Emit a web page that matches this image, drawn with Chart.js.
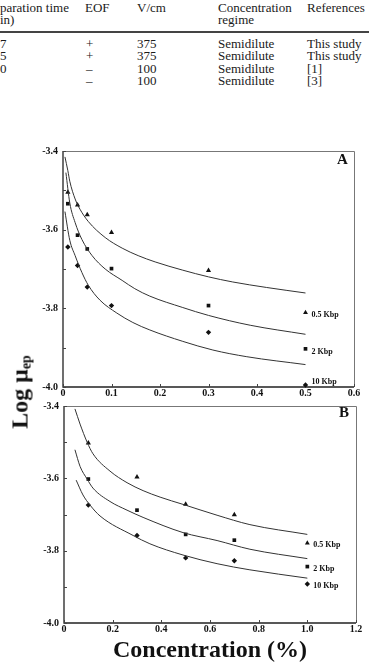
<!DOCTYPE html>
<html><head><meta charset="utf-8">
<script src="https://cdn.jsdelivr.net/npm/chart.js@4.4.1/dist/chart.umd.min.js"></script>
<style>
html,body{margin:0;padding:0;background:#fff;width:369px;height:662px;overflow:hidden;position:relative;font-family:'Liberation Serif','Times New Roman',serif;}
.t{position:absolute;font-family:'Liberation Serif','Times New Roman',serif;font-size:13px;line-height:13px;color:#1a1a1a;white-space:nowrap;}
.rule{position:absolute;left:0;width:369px;top:31px;height:2px;background:#444;}
canvas{position:absolute;left:0;}
#cA{top:140px;}
#cB{top:395px;}
.panel{position:absolute;font:bold 15px/15px 'Liberation Serif',serif;color:#111;}
#ytitle{position:absolute;left:23px;top:392px;transform:translate(-50%,-50%) rotate(-90deg);font:bold 24px/24px 'Liberation Serif',serif;white-space:nowrap;color:#111;}
#ytitle sub{font-size:14px;vertical-align:-3px;}
#xtitle{position:absolute;left:210px;top:637px;transform:translateX(-50%);font:bold 24px/24px 'Liberation Serif',serif;white-space:nowrap;color:#111;}
</style></head>
<body>
<!-- table fragment -->
<div class="t" style="left:0;top:1px">paration time</div>
<div class="t" style="left:0;top:13px">in)</div>
<div class="t" style="left:85px;top:1px">EOF</div>
<div class="t" style="left:137px;top:1px">V/cm</div>
<div class="t" style="left:218px;top:1px">Concentration</div>
<div class="t" style="left:218px;top:13px">regime</div>
<div class="t" style="left:307px;top:1px">References</div>
<div class="rule"></div>
<div class="t" style="left:0;top:37px">7</div>
<div class="t" style="left:86px;top:37px">+</div>
<div class="t" style="left:137px;top:37px">375</div>
<div class="t" style="left:218px;top:37px">Semidilute</div>
<div class="t" style="left:307px;top:37px">This study</div>
<div class="t" style="left:0;top:49px">5</div>
<div class="t" style="left:86px;top:49px">+</div>
<div class="t" style="left:137px;top:49px">375</div>
<div class="t" style="left:218px;top:49px">Semidilute</div>
<div class="t" style="left:307px;top:49px">This study</div>
<div class="t" style="left:0;top:62px">0</div>
<div class="t" style="left:86px;top:62px">–</div>
<div class="t" style="left:137px;top:62px">100</div>
<div class="t" style="left:218px;top:62px">Semidilute</div>
<div class="t" style="left:307px;top:62px">[1]</div>
<div class="t" style="left:86px;top:74px">–</div>
<div class="t" style="left:137px;top:74px">100</div>
<div class="t" style="left:218px;top:74px">Semidilute</div>
<div class="t" style="left:307px;top:74px">[3]</div>

<canvas id="cA" width="369" height="265"></canvas>
<canvas id="cB" width="369" height="245"></canvas>
<div class="panel" style="left:337px;top:152px">A</div>
<div class="panel" style="left:339px;top:405px">B</div>
<div id="ytitle">Log μ<sub>ep</sub></div>
<div id="xtitle">Concentration (%)</div>

<script>
// ---------- data ----------
const keyLabels = ['0.5 Kbp', '2 Kbp', '10 Kbp'];

// Panel A (concentration %, log mobility)
const concA = [0.01, 0.03, 0.05, 0.1, 0.3];
const kbp05A = [-3.505, -3.537, -3.562, -3.607, -3.704];
const kbp2A  = [-3.534, -3.614, -3.649, -3.699, -3.793];
const kbp10A = [-3.644, -3.691, -3.746, -3.793, -3.861];
const keyXA = [0.5, 0.5, 0.5];
const keyYA = [-3.811, -3.903, -3.995];

const fitXA05 = [0.004, 0.01, 0.014, 0.025, 0.035, 0.052, 0.087, 0.122, 0.155, 0.19, 0.247, 0.3, 0.35, 0.42, 0.5];
const fitYA05 = [-3.415, -3.450, -3.477, -3.522, -3.548, -3.579, -3.620, -3.647, -3.666, -3.682, -3.703, -3.720, -3.733, -3.747, -3.761];
const fitXA2  = [0.006, 0.014, 0.025, 0.039, 0.06, 0.087, 0.122, 0.148, 0.179, 0.247, 0.3, 0.386, 0.5];
const fitYA2  = [-3.455, -3.532, -3.582, -3.625, -3.666, -3.700, -3.729, -3.750, -3.769, -3.798, -3.818, -3.843, -3.866];
const fitXA10 = [0.004, 0.014, 0.025, 0.039, 0.052, 0.076, 0.111, 0.144, 0.179, 0.247, 0.309, 0.379, 0.5];
const fitYA10 = [-3.554, -3.627, -3.666, -3.709, -3.741, -3.779, -3.812, -3.836, -3.855, -3.884, -3.906, -3.923, -3.943];

// Panel B
const concB = [0.1, 0.3, 0.5, 0.7];
const kbp05B = [-3.502, -3.596, -3.672, -3.701];
const kbp2B  = [-3.602, -3.688, -3.755, -3.771];
const kbp10B = [-3.674, -3.758, -3.820, -3.828];
const keyXB = [1.0, 1.0, 1.0];
const keyYB = [-3.779, -3.844, -3.892];

const fitXB05 = [0.045, 0.066, 0.095, 0.119, 0.189, 0.259, 0.325, 0.395, 0.489, 0.629, 0.764, 1.0];
const fitYB05 = [-3.408, -3.450, -3.500, -3.532, -3.580, -3.612, -3.634, -3.652, -3.672, -3.702, -3.728, -3.755];
const fitXB2  = [0.045, 0.066, 0.095, 0.119, 0.189, 0.259, 0.325, 0.489, 0.629, 0.764, 1.0];
const fitYB2  = [-3.521, -3.567, -3.602, -3.627, -3.664, -3.688, -3.708, -3.750, -3.772, -3.796, -3.822];
const fitXB10 = [0.05, 0.078, 0.107, 0.148, 0.284, 0.353, 0.489, 0.629, 0.764, 1.0];
const fitYB10 = [-3.605, -3.646, -3.674, -3.704, -3.758, -3.781, -3.812, -3.836, -3.853, -3.876];

// ---------- helpers ----------
const pts = (xs, ys) => xs.map((x, i) => ({x, y: ys[i]}));
const FONT = "'Liberation Serif', 'Times New Roman', serif";

const framePlugin = {
  id: 'frame',
  beforeDatasetsDraw(chart) {
    const {ctx, chartArea: a, scales: {x, y}} = chart;
    ctx.save();
    ctx.strokeStyle = '#777'; ctx.lineWidth = 1;
    ctx.beginPath();
    ctx.moveTo(a.left, a.top + 0.5); ctx.lineTo(a.right + 0.5, a.top + 0.5); ctx.lineTo(a.right + 0.5, a.bottom);
    ctx.stroke();
    ctx.strokeStyle = '#222'; ctx.lineWidth = 1.3;
    ctx.beginPath();
    ctx.moveTo(a.left, a.top); ctx.lineTo(a.left, a.bottom); ctx.lineTo(a.right, a.bottom);
    ctx.stroke();
    ctx.lineWidth = 1; ctx.strokeStyle = '#444';
    ctx.beginPath();
    x.ticks.forEach(t => { const p = Math.round(x.getPixelForValue(t.value)) + 0.5; ctx.moveTo(p, a.bottom); ctx.lineTo(p, a.bottom - 3); });
    y.ticks.forEach(t => { const p = Math.round(y.getPixelForValue(t.value)) + 0.5; ctx.moveTo(a.left, p); ctx.lineTo(a.left + 3, p); });
    ctx.stroke();
    ctx.restore();
  }
};

const keyPlugin = {
  id: 'keytext',
  afterDatasetsDraw(chart, args, opts) {
    const idx = chart.data.datasets.findIndex(d => d.keyText);
    if (idx < 0) return;
    const ds = chart.data.datasets[idx];
    const meta = chart.getDatasetMeta(idx);
    const {ctx} = chart;
    ctx.save();
    ctx.font = 'bold 8px ' + FONT;
    ctx.fillStyle = '#111';
    ctx.textBaseline = 'middle';
    meta.data.forEach((el, i) => {
      ctx.fillText(ds.keyText[i], el.x + 6, el.y + (opts.dy ? opts.dy[i] : 0));
    });
    ctx.restore();
  }
};

function curve(xs, ys) {
  return {type: 'line', data: pts(xs, ys), showLine: true, pointRadius: 0, borderColor: '#333',
          borderWidth: 1, cubicInterpolationMode: 'monotone', fill: false};
}
function marks(xs, ys, style, r) {
  return {data: pts(xs, ys), showLine: false, pointStyle: style, pointRadius: r,
          backgroundColor: '#111', borderColor: '#111', borderWidth: 0};
}

function makeChart(id, cfg) {
  const yFmt = v => { const k = Math.round(v * 10); return (k % 2 === 0) ? v.toFixed(1) : ''; };
  const xFmt = v => (Math.abs(v) < 1e-9 ? '0' : v.toFixed(1));
  return new Chart(document.getElementById(id), {
    type: 'scatter',
    data: {datasets: [
      curve(cfg.f05x, cfg.f05y), curve(cfg.f2x, cfg.f2y), curve(cfg.f10x, cfg.f10y),
      marks(cfg.conc, cfg.s05, 'triangle', 3.0),
      marks(cfg.conc, cfg.s2, 'rect', 2.6),
      marks(cfg.conc, cfg.s10, 'rectRot', 2.7),
      Object.assign(marks(cfg.keyX, cfg.keyY, ['triangle', 'rect', 'rectRot'], [2.8, 2.6, 2.7]),
        {keyText: keyLabels, clip: false})
    ]},
    options: {
      responsive: false, animation: false, devicePixelRatio: 1,
      layout: {padding: cfg.pad},
      plugins: {legend: {display: false}, tooltip: {enabled: false}, keytext: {dy: cfg.dy}},
      scales: {
        x: {type: 'linear', min: 0, max: cfg.xmax,
            grid: {display: false, drawTicks: false}, border: {display: false},
            ticks: {stepSize: cfg.xstep, callback: xFmt, autoSkip: false, maxRotation: 0, padding: 0,
                    color: '#111', font: {family: FONT, size: 10, weight: 'bold'}},
            afterFit: s => { s.height = cfg.xh; }},
        y: {type: 'linear', min: -4.0, max: -3.4,
            grid: {display: false, drawTicks: false}, border: {display: false},
            ticks: {stepSize: 0.1, callback: yFmt, autoSkip: false, padding: 5,
                    color: '#111', font: {family: FONT, size: 10, weight: 'bold'}},
            afterFit: s => { s.width = cfg.yw; }}
      }
    },
    plugins: [framePlugin, keyPlugin]
  });
}

makeChart('cA', {
  conc: concA, s05: kbp05A, s2: kbp2A, s10: kbp10A, keyX: keyXA, keyY: keyYA,
  f05x: fitXA05, f05y: fitYA05, f2x: fitXA2, f2y: fitYA2, f10x: fitXA10, f10y: fitYA10,
  xmax: 0.6, xstep: 0.1, pad: {top: 6, right: 15, left: 0, bottom: 0}, xh: 18, yw: 63, dy: [2, 3, -3]
});
makeChart('cB', {
  conc: concB, s05: kbp05B, s2: kbp2B, s10: kbp10B, keyX: keyXB, keyY: keyYB,
  f05x: fitXB05, f05y: fitYB05, f2x: fitXB2, f2y: fitYB2, f10x: fitXB10, f10y: fitYB10,
  xmax: 1.2, xstep: 0.2, pad: {top: 5, right: 13, left: 0, bottom: 0}, xh: 17, yw: 64, dy: [2, 2, 2]
});
</script>
</body></html>
